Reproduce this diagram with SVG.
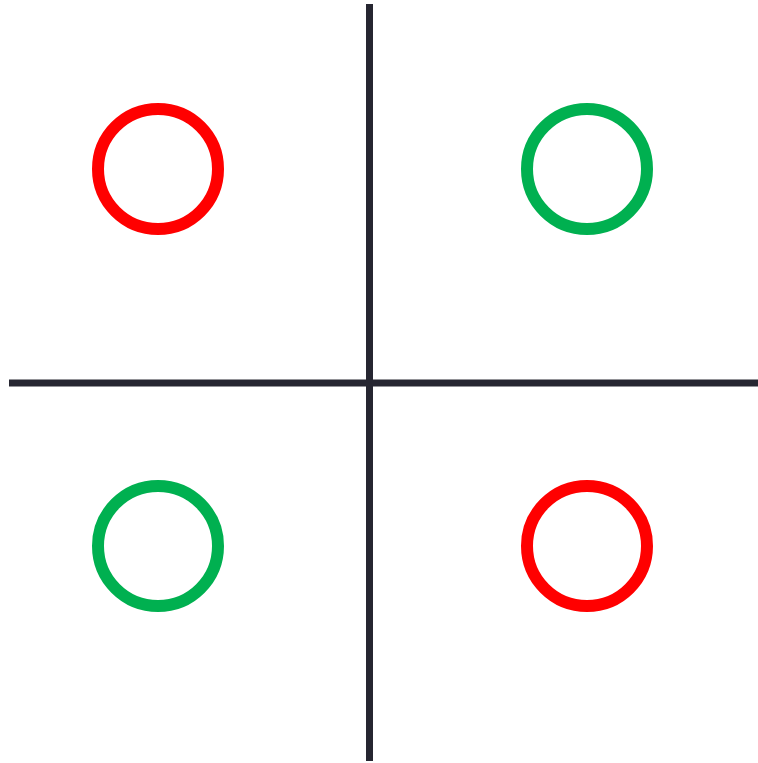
<svg xmlns="http://www.w3.org/2000/svg" width="758" height="763" viewBox="0 0 758 763">
<style>
.axis{stroke:#262631;stroke-width:7;fill:none}
.red{fill:none;stroke:#ff0000;stroke-width:12}
.green{fill:none;stroke:#00b050;stroke-width:12}
</style>
<rect width="758" height="763" fill="#ffffff"/>
<g id="connectors">
<line class="axis" x1="369.5" y1="4" x2="369.5" y2="761"/>
<line class="axis" x1="9" y1="383" x2="758" y2="383"/>
</g>
<g id="node-tl"><circle class="red" cx="158" cy="169" r="60"/></g>
<g id="node-tr"><circle class="green" cx="587" cy="169" r="60"/></g>
<g id="node-bl"><circle class="green" cx="158" cy="546" r="60"/></g>
<g id="node-br"><circle class="red" cx="587" cy="546" r="60"/></g>
</svg>
